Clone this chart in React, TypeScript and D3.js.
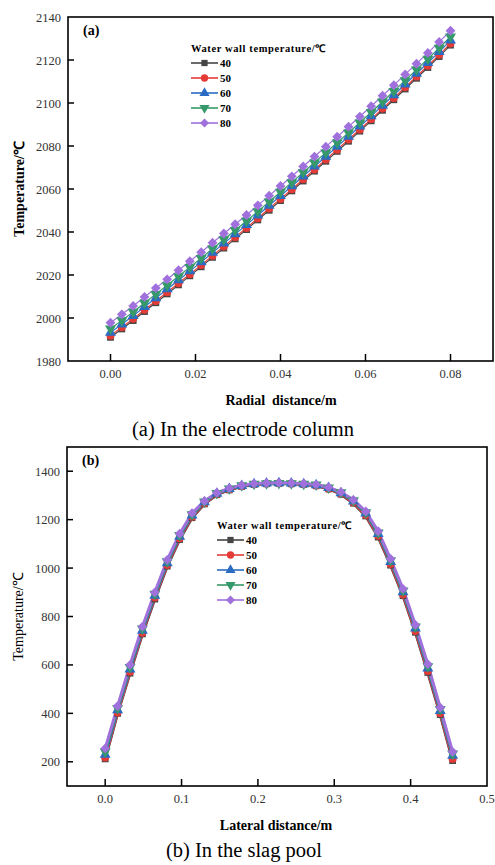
import React from "react";
import * as d3 from "d3";

// ---------- Data ----------
const seriesNames = ["40", "50", "60", "70", "80"];
const seriesColors = ["#454545", "#e53b37", "#2a6cc4", "#35996a", "#a071dc"];

// Panel (a): radial distance (m), 31 points from 0 to 0.08
const radialX = d3.range(31).map((i) => (i * 0.08) / 30);
const aT40 = [1991.0, 1994.9, 1998.8, 2003.0, 2007.1, 2011.2, 2015.4, 2019.6, 2023.8, 2028.2, 2032.5, 2036.8, 2041.1, 2045.6, 2050.1, 2054.6, 2059.1, 2063.7, 2068.3, 2072.9, 2077.5, 2082.2, 2086.9, 2091.7, 2096.6, 2101.5, 2106.5, 2111.5, 2116.5, 2121.6, 2126.9];
const aT50 = [1991.8, 1995.7, 1999.6, 2003.8, 2007.9, 2012.0, 2016.2, 2020.4, 2024.6, 2029.0, 2033.3, 2037.6, 2041.9, 2046.4, 2050.9, 2055.4, 2059.9, 2064.5, 2069.1, 2073.7, 2078.3, 2083.0, 2087.7, 2092.5, 2097.4, 2102.3, 2107.3, 2112.3, 2117.3, 2122.4, 2127.7];
const aT60 = [1993.2, 1997.1, 2001.0, 2005.2, 2009.3, 2013.4, 2017.6, 2021.8, 2026.0, 2030.4, 2034.7, 2039.0, 2043.3, 2047.8, 2052.3, 2056.8, 2061.3, 2065.9, 2070.5, 2075.1, 2079.7, 2084.4, 2089.1, 2093.9, 2098.8, 2103.7, 2108.7, 2113.7, 2118.7, 2123.8, 2129.1];
const aT70 = [1995.0, 1998.9, 2002.8, 2007.0, 2011.1, 2015.2, 2019.4, 2023.6, 2027.8, 2032.2, 2036.5, 2040.8, 2045.1, 2049.6, 2054.1, 2058.6, 2063.1, 2067.7, 2072.3, 2076.9, 2081.5, 2086.2, 2090.9, 2095.7, 2100.6, 2105.5, 2110.5, 2115.5, 2120.5, 2125.6, 2130.9];
const aT80 = [1997.8, 2001.7, 2005.6, 2009.8, 2013.9, 2018.0, 2022.2, 2026.4, 2030.6, 2035.0, 2039.3, 2043.6, 2047.9, 2052.4, 2056.9, 2061.4, 2065.9, 2070.5, 2075.1, 2079.7, 2084.3, 2089.0, 2093.7, 2098.5, 2103.4, 2108.3, 2113.3, 2118.3, 2123.3, 2128.4, 2133.6];
const aTicksX = [0, 0.02, 0.04, 0.06, 0.08];
const aTicksY = [1980, 2000, 2020, 2040, 2060, 2080, 2100, 2120, 2140];

// Panel (b): lateral distance (m), 29 points from 0 to 0.455
const lateralX = d3.range(29).map((i) => (i * 0.455) / 28);
const bT40 = [212, 400, 566, 728, 872, 1008, 1118, 1208, 1265, 1303, 1323, 1337, 1345, 1348, 1349, 1348, 1345, 1340, 1327, 1305, 1268, 1215, 1128, 1012, 886, 735, 569, 395, 205];
const bT50 = [218, 404, 572, 733, 878, 1013, 1123, 1212, 1268, 1305, 1325, 1338, 1346, 1349, 1350, 1349, 1346, 1341, 1328, 1307, 1271, 1219, 1133, 1017, 891, 740, 575, 400, 212];
const bT60 = [230, 413, 582, 742, 886, 1021, 1130, 1218, 1272, 1308, 1327, 1340, 1347, 1350, 1351, 1350, 1347, 1343, 1331, 1310, 1276, 1226, 1141, 1026, 901, 751, 586, 410, 226];
const bT70 = [242, 421, 591, 750, 893, 1027, 1136, 1222, 1274, 1309, 1328, 1341, 1348, 1350, 1351, 1350, 1348, 1344, 1332, 1312, 1279, 1230, 1146, 1032, 907, 758, 594, 417, 234];
const bT80 = [255, 430, 600, 758, 900, 1034, 1142, 1227, 1277, 1311, 1330, 1342, 1349, 1351, 1352, 1351, 1349, 1345, 1334, 1314, 1282, 1234, 1152, 1038, 914, 765, 603, 424, 241];
const bTicksX = [0, 0.1, 0.2, 0.3, 0.4, 0.5];
const bTicksY = [200, 400, 600, 800, 1000, 1200, 1400];

const FONT = "'Liberation Serif', 'Times New Roman', serif";

const symbolTypes = [
  { type: d3.symbolSquare, rot: 0, size: 46 },
  { type: d3.symbolCircle, rot: 0, size: 50 },
  { type: d3.symbolTriangle, rot: 0, size: 52 },
  { type: d3.symbolTriangle, rot: 180, size: 52 },
  { type: d3.symbolSquare, rot: 45, size: 48 },
];

function Marker({ x, y, k, scale = 1 }: { x: number; y: number; k: number; scale?: number }) {
  const s = symbolTypes[k];
  const path = d3.symbol().type(s.type).size(s.size * scale)() as string;
  return (
    <path
      d={path}
      transform={`translate(${x},${y}) rotate(${s.rot})`}
      fill={seriesColors[k]}
    />
  );
}

type PanelProps = {
  xs: number[];
  ys: number[][];
  xDomain: [number, number];
  yDomain: [number, number];
  left: number;
  right: number;
  top: number;
  bottom: number;
  xTicks: number[];
  yTicks: number[];
  xFmt: (v: number) => string;
  tag: string;
  xTitle: string;
  yBold: boolean;
  lineWidth: number;
  legendX: number;
  legendY: number;
  yLabelX: number;
  xTitleX: number;
};

function Panel(p: PanelProps) {
  const x = d3.scaleLinear().domain(p.xDomain).range([p.left, p.right]);
  const y = d3.scaleLinear().domain(p.yDomain).range([p.bottom, p.top]);
  const line = d3
    .line<number>()
    .x((_, i) => x(p.xs[i]))
    .y((d) => y(d));
  const midY = (p.top + p.bottom) / 2;
  return (
    <g fontFamily={FONT}>
      {p.ys.map((arr, k) => (
        <path key={"l" + k} d={line(arr) as string} fill="none" stroke={seriesColors[k]} strokeWidth={p.lineWidth} />
      ))}
      {p.ys.map((arr, k) =>
        arr.map((v, i) => <Marker key={"m" + k + "-" + i} x={x(p.xs[i])} y={y(v)} k={k} />)
      )}
      <rect x={p.left} y={p.top} width={p.right - p.left} height={p.bottom - p.top} fill="none" stroke="#000" strokeWidth={1.6} />
      {p.xTicks.map((t) => (
        <g key={"xt" + t}>
          {x(t) < p.right - 1 && (
            <line x1={x(t)} x2={x(t)} y1={p.bottom} y2={p.bottom - 7} stroke="#000" strokeWidth={1.5} />
          )}
          <text x={x(t)} y={p.bottom + 17} textAnchor="middle" fontSize={12.5} fill="#333">
            {p.xFmt(t)}
          </text>
        </g>
      ))}
      {p.yTicks.map((t) => (
        <g key={"yt" + t}>
          {y(t) < p.bottom - 1 && y(t) > p.top + 1 && (
            <line x1={p.left} x2={p.left + 6} y1={y(t)} y2={y(t)} stroke="#000" strokeWidth={1.5} />
          )}
          <text x={p.left - 7} y={y(t) + 4.5} textAnchor="end" fontSize={12.5} fill="#333">
            {t}
          </text>
        </g>
      ))}
      <text x={p.left + 15} y={p.top + 18} fontSize={14} fontWeight="bold">
        {p.tag}
      </text>
      <text x={p.xTitleX} y={p.bottom + 44} textAnchor="middle" fontSize={14} fontWeight="bold" style={{ whiteSpace: "pre" }}>
        {p.xTitle}
      </text>
      <text
        transform={`translate(${p.yLabelX},${midY}) rotate(-90)`}
        textAnchor="middle"
        fontSize={14}
        fontWeight={p.yBold ? "bold" : "normal"}
      >
        Temperature/℃
      </text>
      <g transform={`translate(${p.legendX},${p.legendY})`}>
        <text x={0} y={0} fontSize={10.5} fontWeight="bold" letterSpacing={0.6}>
          Water wall temperature/℃
        </text>
        {seriesNames.map((n, k) => (
          <g key={"lg" + k} transform={`translate(0,${11 + k * 15})`}>
            <line x1={0} x2={27} y1={0} y2={0} stroke={seriesColors[k]} strokeWidth={1.6} />
            <Marker x={13.5} y={0} k={k} scale={0.85} />
            <text x={29} y={4} fontSize={11} fontWeight="bold">
              {n}
            </text>
          </g>
        ))}
      </g>
    </g>
  );
}

export default function App() {
  return (
    <svg width={495} height={865} style={{ position: "absolute", left: 0, top: 0, background: "#fff" }}>
      <rect x={0} y={0} width={495} height={865} fill="#fff" />
      <Panel
        xs={radialX}
        ys={[aT40, aT50, aT60, aT70, aT80]}
        xDomain={[-0.01, 0.09]}
        yDomain={[1980, 2140]}
        left={68}
        right={493}
        top={17}
        bottom={361}
        xTicks={aTicksX}
        yTicks={aTicksY}
        xFmt={(v) => v.toFixed(2)}
        tag="(a)"
        xTitle={"Radial  distance/m"}
        yBold={true}
        lineWidth={1.2}
        legendX={191}
        legendY={52}
        yLabelX={24}
        xTitleX={281}
      />
      <text x={243} y={436} textAnchor="middle" fontSize={20.5} fontFamily={FONT}>
        (a) In the electrode column
      </text>
      <Panel
        xs={lateralX}
        ys={[bT40, bT50, bT60, bT70, bT80]}
        xDomain={[-0.05, 0.5]}
        yDomain={[100, 1500]}
        left={67}
        right={487}
        top={447}
        bottom={786}
        xTicks={bTicksX}
        yTicks={bTicksY}
        xFmt={(v) => v.toFixed(1)}
        tag="(b)"
        xTitle="Lateral distance/m"
        yBold={false}
        lineWidth={3}
        legendX={217}
        legendY={529}
        yLabelX={23}
        xTitleX={276}
      />
      <text x={244} y={857} textAnchor="middle" fontSize={20.5} fontFamily={FONT}>
        (b) In the slag pool
      </text>
    </svg>
  );
}
